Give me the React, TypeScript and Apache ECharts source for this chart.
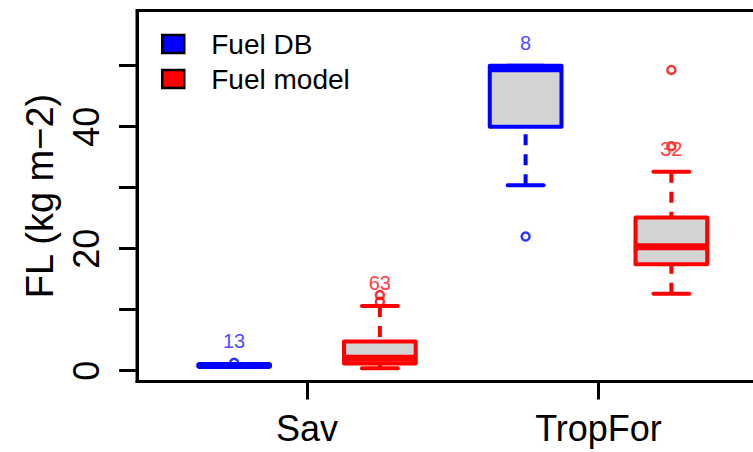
import React, { useEffect, useRef } from "react";
import * as echarts from "echarts";

// ---- data ----
const categories = ["Sav", "TropFor"];
// [lower whisker, Q1, median, Q3, upper whisker]
const dbStats = [
  [0.6, 0.7, 0.85, 1.0, 1.1],
  [30.4, 40.0, 49.5, 50.0, 50.0],
];
const modelStats = [
  [0.4, 1.2, 2.05, 4.8, 10.6],
  [12.6, 17.45, 20.3, 25.1, 32.6],
];
const dbOutliers = [[1.3], [22.0]];
const modelOutliers = [[11.3, 12.4], [36.8, 49.3]];
const dbCounts = [13, 8];
const modelCounts = [63, 32];
const yTicks = [0, 10, 20, 30, 40, 50];
const yLabels = [0, 20, 40];
const seriesNames = ["Fuel DB", "Fuel model"];

const BLUE = "#0000ff";
const RED = "#ff0000";
const FONT = "'Liberation Sans', Arial, Helvetica, sans-serif";
const BOX_HALF = 0.123;
const OFFSET = 0.25;
const CANVAS_W = 800;

function makeRenderItem(color: string, labelColor: string) {
  return (params: any, api: any) => {
    const x = api.value(0);
    const lo = api.coord([x, api.value(1)]);
    const q1 = api.coord([x, api.value(2)]);
    const med = api.coord([x, api.value(3)]);
    const q3 = api.coord([x, api.value(4)]);
    const hi = api.coord([x, api.value(5)]);
    const count = api.value(6);
    const hw = api.size([BOX_HALF, 0])[0];
    const cx = q1[0];
    const lw = 4;
    const children: any[] = [];
    if (Math.abs(lo[1] - q1[1]) > 1) {
      children.push({
        type: "line",
        shape: { x1: cx, y1: lo[1], x2: cx, y2: q1[1] },
        style: { stroke: color, lineWidth: lw, lineDash: [11, 9] },
      });
    }
    if (Math.abs(hi[1] - q3[1]) > 1) {
      children.push({
        type: "line",
        shape: { x1: cx, y1: hi[1], x2: cx, y2: q3[1] },
        style: { stroke: color, lineWidth: lw, lineDash: [11, 9] },
      });
    }
    children.push({
      type: "line",
      shape: { x1: cx - hw / 2, y1: lo[1], x2: cx + hw / 2, y2: lo[1] },
      style: { stroke: color, lineWidth: lw, lineCap: "round" },
    });
    children.push({
      type: "line",
      shape: { x1: cx - hw / 2, y1: hi[1], x2: cx + hw / 2, y2: hi[1] },
      style: { stroke: color, lineWidth: lw, lineCap: "round" },
    });
    children.push({
      type: "rect",
      shape: { x: cx - hw, y: q3[1], width: 2 * hw, height: q1[1] - q3[1] },
      style: { fill: "#d3d3d3", stroke: color, lineWidth: lw, lineJoin: "round" },
    });
    children.push({
      type: "line",
      shape: { x1: cx - hw, y1: med[1], x2: cx + hw, y2: med[1] },
      style: { stroke: color, lineWidth: 7, lineCap: "butt" },
    });
    children.push({
      type: "text",
      x: cx,
      y: hi[1] - 23,
      style: {
        text: String(count),
        fill: labelColor,
        font: `20px ${FONT}`,
        align: "center",
        verticalAlign: "middle",
      },
    });
    return { type: "group", children };
  };
}

export default function App() {
  const ref = useRef<HTMLDivElement>(null);
  useEffect(() => {
    if (!ref.current) return;
    const chart = echarts.init(ref.current, undefined, { renderer: "svg" });
    const dbData = dbStats.map((s, i) => [i + 1 - OFFSET, ...s, dbCounts[i]]);
    const modelData = modelStats.map((s, i) => [i + 1 + OFFSET, ...s, modelCounts[i]]);
    const dbOut = dbOutliers.flatMap((vals, i) => vals.map((v) => [i + 1 - OFFSET, v]));
    const modelOut = modelOutliers.flatMap((vals, i) => vals.map((v) => [i + 1 + OFFSET, v]));
    chart.setOption({
      animation: false,
      backgroundColor: "#ffffff",
      grid: {
        left: 137,
        top: 10.5,
        right: CANVAS_W - 769,
        bottom: 70.5,
        show: true,
        borderColor: "#000",
        borderWidth: 3,
        backgroundColor: "transparent",
      },
      legend: {
        left: 161,
        top: 29,
        orient: "vertical",
        padding: 0,
        itemGap: 5,
        itemWidth: 22,
        itemHeight: 18,
        selectedMode: false,
        textStyle: {
          fontFamily: FONT,
          fontSize: 28,
          color: "#000",
          lineHeight: 30,
          padding: [0, 0, 0, 22],
        },
        data: [
          { name: seriesNames[0], icon: "rect", itemStyle: { color: BLUE, borderColor: "#000", borderWidth: 2.5 } },
          { name: seriesNames[1], icon: "rect", itemStyle: { color: RED, borderColor: "#000", borderWidth: 2.5 } },
        ],
      },
      xAxis: {
        type: "value",
        min: 0.4168,
        max: 2.585,
        axisLine: { show: true, onZero: false, lineStyle: { color: "#000", width: 3 } },
        axisTick: { show: true, customValues: [1, 2], length: 18, lineStyle: { color: "#000", width: 3 } },
        axisLabel: {
          customValues: [1, 2],
          formatter: (v: number) => categories[Math.round(v) - 1] ?? "",
          fontFamily: FONT,
          fontSize: 36,
          color: "#000",
          margin: 29,
        },
        splitLine: { show: false },
      },
      yAxis: {
        type: "value",
        min: -1.77,
        max: 59.05,
        name: "FL (kg m\u22122)",
        nameLocation: "middle",
        nameRotate: 90,
        nameGap: 78,
        nameTextStyle: { fontFamily: FONT, fontSize: 38, color: "#000" },
        axisLine: { show: true, onZero: false, lineStyle: { color: "#000", width: 3 } },
        axisTick: { show: true, customValues: yTicks, length: 18, lineStyle: { color: "#000", width: 3 } },
        axisLabel: {
          customValues: yLabels,
          rotate: 90,
          fontFamily: FONT,
          fontSize: 36,
          color: "#000",
          margin: 33,
        },
        splitLine: { show: false },
      },
      series: [
        {
          type: "scatter",
          name: "db-outliers",
          data: dbOut,
          symbol: "circle",
          symbolSize: 8,
          z: 1,
          itemStyle: { color: "transparent", borderColor: BLUE, borderWidth: 2.5 },
        },
        {
          type: "scatter",
          name: "model-outliers",
          data: modelOut,
          symbol: "circle",
          symbolSize: 8,
          z: 1,
          itemStyle: { color: "transparent", borderColor: RED, borderWidth: 2.5 },
        },
        {
          type: "custom",
          name: seriesNames[0],
          data: dbData,
          encode: { x: 0, y: [1, 2, 3, 4, 5] },
          itemStyle: { color: BLUE },
          renderItem: makeRenderItem(BLUE, "#4d4dff"),
          z: 2,
        },
        {
          type: "custom",
          name: seriesNames[1],
          data: modelData,
          encode: { x: 0, y: [1, 2, 3, 4, 5] },
          itemStyle: { color: RED },
          renderItem: makeRenderItem(RED, "#ff4040"),
          z: 2,
        },
      ],
    });
    return () => chart.dispose();
  }, []);
  return (
    <div style={{ position: "absolute", left: 0, top: 0, width: 753, height: 452, overflow: "hidden" }}>
      <div ref={ref} style={{ width: CANVAS_W, height: 452 }} />
    </div>
  );
}
